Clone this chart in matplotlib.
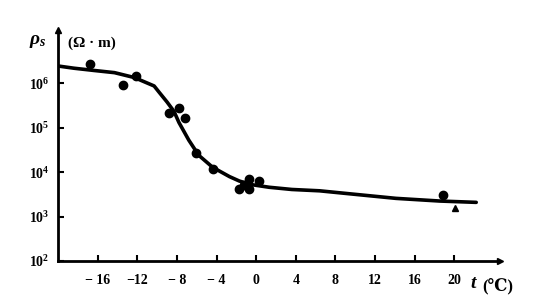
import numpy as np
import matplotlib
matplotlib.use("Agg")
import matplotlib.pyplot as plt

# data (temperature in degC, log10 of resistivity in Ohm*m)
curve_t = [-20.0, -18.4, -16.4, -14.3, -12.3, -10.3, -9.8, -9.0, -8.3, -7.8, -6.8,
           -5.8, -4.4, -2.7, -1.7, -0.5, 1.3, 3.6, 6.4, 9.1, 14.1, 18.5, 22.2]
curve_log = [6.39, 6.34, 6.29, 6.24, 6.13, 5.94, 5.80, 5.58, 5.37, 5.12, 4.72,
             4.38, 4.11, 3.90, 3.80, 3.72, 3.66, 3.61, 3.58, 3.52, 3.41, 3.35, 3.32]

circle_t = [-16.8, -13.4, -12.1, -8.8, -7.8, -7.2, -6.1, -4.4,
            -1.7, -0.7, -0.7, 0.3, -1.2, 18.8]
circle_log = [6.43, 5.96, 6.16, 5.33, 5.44, 5.21, 4.43, 4.07,
              3.62, 3.85, 3.62, 3.80, 3.70, 3.48]

tri_t = [20.1]
tri_log = [3.19]

x_ticks = [-16, -12, -8, -4, 0, 4, 8, 12, 16, 20]
x_ticklabels = ["\u2212 16", "\u221212", "\u2212 8", "\u2212 4", "0", "4", "8", "12", "16", "20"]
y_exps = [2, 3, 4, 5, 6]

serif = ["Liberation Serif", "DejaVu Serif", "DejaVu Sans"]
plt.rcParams["font.family"] = serif
plt.rcParams["mathtext.fontset"] = "custom"
plt.rcParams["mathtext.rm"] = "Liberation Serif:bold"
plt.rcParams["mathtext.it"] = "Liberation Serif:italic:bold"
plt.rcParams["mathtext.bf"] = "Liberation Serif:bold"

fig = plt.figure(figsize=(5.4, 3.06), dpi=100)
ax = fig.add_axes([58/540, 1-261/306, (500-58)/540, (261-30)/306])

ax.plot(curve_t, 10**np.array(curve_log), color="black", lw=2.6,
        solid_capstyle="round", solid_joinstyle="round")
ax.plot(circle_t, 10**np.array(circle_log), "o", color="black", ms=6)
ax.plot(tri_t, 10**np.array(tri_log), "^", color="black", ms=5)

ax.set_yscale("log")
ax.set_xlim(-20, 24.6)
ax.set_ylim(10**2, 10**7.2)

ax.set_xticks(x_ticks)
ax.set_xticklabels(x_ticklabels, fontsize=10, fontweight="bold")
ax.set_yticks([10**e for e in y_exps])
ax.set_yticklabels([r"$\mathbf{10^{%d}}$" % e for e in y_exps], fontsize=10)
ax.minorticks_off()
ax.tick_params(axis="x", direction="in", length=4, width=1.5, pad=9)
ax.tick_params(axis="y", direction="in", length=4, width=1.5, pad=6)

for s in ["top", "right"]:
    ax.spines[s].set_visible(False)
for s in ["left", "bottom"]:
    ax.spines[s].set_linewidth(2.0)

ax.plot([0], [1], "^", color="black", ms=5, transform=ax.transAxes, clip_on=False)
ax.plot([1], [0], ">", color="black", ms=5, transform=ax.transAxes, clip_on=False)

fig.text(29/540, 1-41/306, r"$\rho_s$", fontsize=14, va="center", ha="left")
fig.text(68/540, 1-43/306, "(\u03a9 \u00b7 m)", fontsize=11, fontweight="bold",
         va="center", ha="left")
fig.text(470/540, 1-284/306, r"$t$", fontsize=14, va="center", ha="left")
fig.text(482/540, 1-286/306, "(\u2103)", fontsize=12, fontweight="bold",
         va="center", ha="left", family=serif)

fig.savefig("out.png", dpi=100)
